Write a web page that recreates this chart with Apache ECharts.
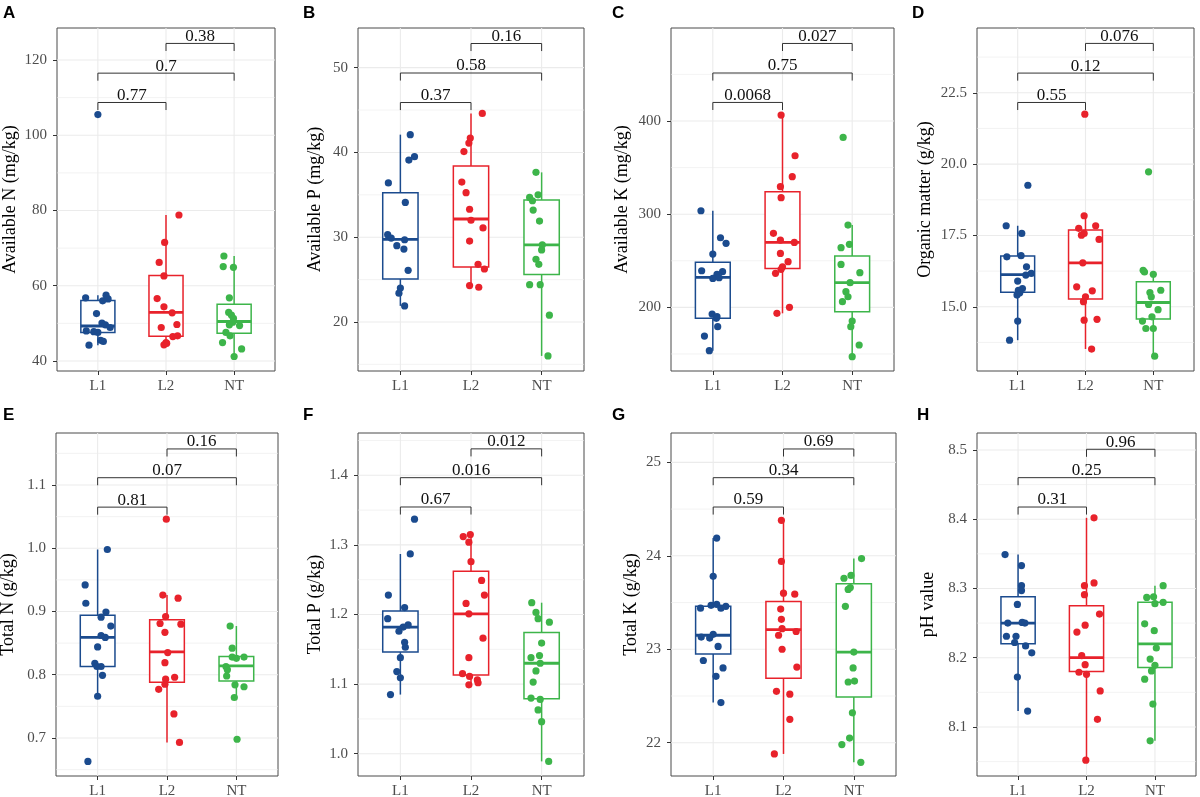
<!DOCTYPE html>
<html><head><meta charset="utf-8">
<script src="https://cdn.jsdelivr.net/npm/echarts@6/dist/echarts.min.js"></script>
<style>html,body{margin:0;padding:0;background:#fff}#c{width:1200px;height:797px}</style>
</head><body><div id="c"></div>
<script>
// ---------- data ----------
const groups = ['L1', 'L2', 'NT'];
const groupColors = ['#1B4B8E', '#E8222B', '#3DB54A'];

// A: Available N (mg/kg)
const aN_L1 = [105.5, 56.8, 57.5, 56.0, 56.5, 52.6, 50.1, 49.6, 48.9, 48.0, 47.6, 47.8, 45.5, 45.2, 44.2];
const aN_L1_jit = [0, -0.18, 0.12, 0.07, 0.15, -0.02, 0.06, 0.11, 0.18, -0.17, 0.0, -0.06, 0.04, 0.08, -0.13];
const aN_L2 = [78.8, 71.5, 66.2, 62.6, 56.6, 54.4, 52.8, 48.9, 49.7, 44.9, 44.3, 46.5, 46.7, 44.7];
const aN_L2_jit = [0.19, -0.02, -0.1, -0.03, -0.13, -0.03, 0.09, -0.07, 0.16, 0.0, -0.03, 0.1, 0.17, 0.01];
const aN_NT = [67.9, 65.1, 64.9, 56.8, 52.9, 52.2, 51.3, 50.3, 49.6, 49.4, 47.6, 46.7, 44.9, 43.2, 41.2];
const aN_NT_jit = [-0.15, -0.16, -0.01, -0.07, -0.08, -0.04, -0.01, -0.02, -0.07, 0.08, -0.12, -0.06, -0.17, 0.11, 0.0];
const aN_box = [[44.2, 47.6, 49.3, 56.1, 57.5], [44.3, 46.6, 52.9, 62.7, 78.8], [41.2, 47.4, 50.5, 55.1, 67.9]];
const aN_p = ['0.77', '0.7', '0.38'];
const aN_bracketY = [108.7, 116.5, 124.4];
const aN_range = [37.34, 128.5];
const aN_ticks = [40, 60, 80, 100, 120];
const aN_minor = [50, 70, 90, 110];

// B: Available P (mg/kg)
const aP_L1 = [42.1, 39.5, 39.1, 36.4, 34.1, 30.3, 29.9, 29.7, 29.0, 28.6, 26.1, 24.0, 23.4, 21.9];
const aP_L1_jit = [0.14, 0.2, 0.12, -0.17, 0.07, -0.18, -0.13, 0.06, -0.05, 0.05, 0.11, 0.0, -0.02, 0.06];
const aP_L2 = [44.6, 41.7, 41.1, 40.1, 36.5, 35.25, 33.3, 32.0, 31.1, 29.55, 26.8, 26.25, 24.3, 24.1];
const aP_L2_jit = [0.16, -0.01, -0.03, -0.1, -0.13, -0.07, -0.02, 0.0, 0.17, -0.02, 0.1, 0.19, -0.02, 0.11];
const aP_NT = [37.65, 34.7, 35.0, 34.3, 33.2, 31.9, 29.1, 28.5, 27.4, 26.8, 24.4, 24.4, 20.8, 16.0];
const aP_NT_jit = [-0.08, -0.17, -0.05, -0.13, -0.12, -0.03, 0.01, 0.0, -0.08, -0.04, -0.17, -0.02, 0.11, 0.09];
const aP_box = [[21.9, 25.07, 29.75, 35.25, 42.1], [24.1, 26.5, 32.15, 38.4, 44.6], [16.0, 25.6, 29.1, 34.4, 37.65]];
const aP_p = ['0.37', '0.58', '0.16'];
const aP_bracketY = [45.89, 49.37, 52.85];
const aP_range = [14.22, 54.68];
const aP_ticks = [20, 30, 40, 50];
const aP_minor = [15, 25, 35, 45];

// C: Available K (mg/kg)
const aK_L1 = [303.7, 274.7, 268.7, 257.2, 239.3, 238.3, 235.4, 231.1, 231.8, 192.8, 190.0, 188.2, 179.3, 169.2, 153.5];
const aK_L1_jit = [-0.17, 0.11, 0.19, 0.0, -0.16, 0.14, 0.06, 0.0, 0.09, -0.01, 0.06, 0.05, 0.07, -0.12, -0.05];
const aK_L2 = [406.4, 362.7, 340.2, 329.5, 317.7, 279.4, 272.2, 269.7, 257.9, 249.0, 243.6, 240.8, 236.5, 200.0, 193.6];
const aK_L2_jit = [-0.02, 0.18, 0.14, -0.03, -0.02, -0.13, -0.03, 0.17, -0.03, 0.08, 0.0, -0.02, -0.1, 0.1, -0.08];
const aK_NT = [382.4, 288.3, 267.6, 264.0, 246.1, 237.2, 226.5, 216.8, 211.4, 206.1, 185.3, 179.3, 159.6, 147.1];
const aK_NT_jit = [-0.13, -0.06, -0.04, -0.16, -0.16, 0.11, -0.03, -0.09, -0.06, -0.14, 0.0, -0.02, 0.1, 0.0];
const aK_box = [[153.5, 188.2, 232.2, 248.3, 303.7], [193.6, 241.8, 269.7, 324.1, 406.4], [147.1, 195.4, 226.5, 255.1, 288.3]];
const aK_p = ['0.0068', '0.75', '0.027'];
const aK_bracketY = [419.9, 451.5, 483.2];
const aK_range = [131.7, 499.8];
const aK_ticks = [200, 300, 400];
const aK_minor = [150, 250, 350, 450];

// D: Organic matter (g/kg)
const om_L1 = [19.26, 17.84, 17.57, 16.75, 16.79, 16.4, 16.11, 16.17, 15.9, 15.64, 15.58, 15.41, 15.49, 14.5, 13.83];
const om_L1_jit = [0.15, -0.17, 0.06, -0.16, 0.05, 0.13, 0.12, 0.2, 0.0, 0.07, 0.01, -0.01, 0.03, 0.0, -0.12];
const om_L2 = [21.75, 18.19, 17.84, 17.75, 17.51, 17.57, 17.36, 16.54, 15.7, 15.56, 15.35, 15.18, 14.53, 14.56, 13.52];
const om_L2_jit = [-0.01, -0.02, 0.15, -0.1, -0.06, -0.02, 0.2, -0.04, -0.13, 0.1, 0.0, -0.03, -0.02, 0.17, 0.09];
const om_NT = [19.73, 16.28, 16.22, 16.14, 15.58, 15.5, 15.35, 15.08, 14.9, 14.65, 14.5, 14.24, 14.24, 13.27];
const om_NT_jit = [-0.07, -0.15, -0.13, 0.0, 0.11, -0.05, -0.03, -0.07, 0.07, -0.02, -0.16, -0.11, 0.0, 0.02];
const om_box = [[13.83, 15.51, 16.13, 16.78, 17.84], [13.52, 15.27, 16.54, 17.69, 18.19], [13.27, 14.57, 15.15, 15.88, 16.14]];
const om_p = ['0.55', '0.12', '0.076'];
const om_bracketY = [22.16, 23.19, 24.23];
const om_range = [12.75, 24.77];
const om_ticks = [15, 17.5, 20, 22.5];
const om_minor = [13.75, 16.25, 18.75, 21.25, 23.75];

// E: Total N (g/kg)
const tN_L1 = [0.998, 0.942, 0.913, 0.899, 0.891, 0.877, 0.862, 0.859, 0.844, 0.818, 0.813, 0.813, 0.799, 0.766, 0.663];
const tN_L1_jit = [0.14, -0.18, -0.17, 0.12, 0.05, 0.19, 0.05, 0.11, 0.0, -0.04, 0.05, -0.01, 0.07, 0.0, -0.14];
const tN_L2 = [1.046, 0.926, 0.921, 0.892, 0.881, 0.880, 0.867, 0.835, 0.819, 0.796, 0.793, 0.785, 0.777, 0.738, 0.693];
const tN_L2_jit = [-0.01, -0.06, 0.16, -0.02, -0.1, 0.2, -0.03, 0.01, -0.03, 0.11, -0.02, -0.03, -0.12, 0.1, 0.18];
const tN_NT = [0.877, 0.842, 0.828, 0.826, 0.828, 0.813, 0.808, 0.798, 0.784, 0.781, 0.764, 0.698];
const tN_NT_jit = [-0.09, -0.06, -0.06, 0.0, 0.11, -0.15, -0.13, -0.14, -0.02, 0.11, -0.03, 0.01];
const tN_box = [[0.766, 0.813, 0.859, 0.894, 0.998], [0.693, 0.788, 0.836, 0.887, 0.926], [0.764, 0.790, 0.814, 0.829, 0.877]];
const tN_p = ['0.81', '0.07', '0.16'];
const tN_bracketY = [1.065, 1.1115, 1.157];
const tN_range = [0.6399, 1.1822];
const tN_ticks = [0.7, 0.8, 0.9, 1.0, 1.1];
const tN_minor = [0.65, 0.75, 0.85, 0.95, 1.05, 1.15];

// F: Total P (g/kg)
const tP_L1 = [1.337, 1.287, 1.228, 1.210, 1.194, 1.185, 1.182, 1.176, 1.160, 1.153, 1.138, 1.118, 1.109, 1.085];
const tP_L1_jit = [0.2, 0.14, -0.17, 0.06, -0.18, 0.11, 0.04, -0.02, 0.06, 0.07, 0.0, -0.05, 0.0, -0.14];
const tP_L2 = [1.312, 1.315, 1.304, 1.276, 1.249, 1.228, 1.216, 1.201, 1.166, 1.138, 1.115, 1.111, 1.106, 1.099, 1.102];
const tP_L2_jit = [-0.11, -0.01, -0.03, 0.0, 0.15, 0.19, -0.07, -0.03, 0.17, -0.03, -0.12, -0.02, 0.09, -0.03, 0.1];
const tP_NT = [1.217, 1.203, 1.194, 1.189, 1.159, 1.138, 1.141, 1.130, 1.119, 1.103, 1.080, 1.078, 1.063, 1.046, 0.989];
const tP_NT_jit = [-0.14, -0.08, -0.05, 0.11, 0.0, -0.15, -0.03, -0.02, -0.08, -0.12, -0.15, -0.02, -0.05, 0.0, 0.1];
const tP_box = [[1.085, 1.146, 1.182, 1.205, 1.287], [1.099, 1.113, 1.201, 1.262, 1.315], [0.989, 1.079, 1.130, 1.174, 1.217]];
const tP_p = ['0.67', '0.016', '0.012'];
const tP_bracketY = [1.3545, 1.3966, 1.438];
const tP_range = [0.968, 1.4608];
const tP_ticks = [1.0, 1.1, 1.2, 1.3, 1.4];
const tP_minor = [1.05, 1.15, 1.25, 1.35, 1.45];

// G: Total K (g/kg)
const tK_L1 = [24.19, 23.78, 23.44, 23.47, 23.48, 23.44, 23.46, 23.16, 23.13, 23.12, 23.03, 22.88, 22.8, 22.71, 22.43];
const tK_L1_jit = [0.05, 0.0, -0.18, -0.03, 0.05, 0.11, 0.18, 0.0, -0.17, -0.05, 0.07, -0.14, 0.14, 0.04, 0.11];
const tK_L2 = [24.38, 23.94, 23.6, 23.59, 23.43, 23.32, 23.22, 23.15, 23.19, 23.0, 22.81, 22.55, 22.52, 22.25, 21.88];
const tK_L2_jit = [-0.03, -0.03, 0.0, 0.16, -0.04, -0.03, -0.02, -0.07, 0.18, -0.02, 0.19, -0.1, 0.09, 0.09, -0.13];
const tK_NT = [23.97, 23.76, 23.79, 23.64, 23.66, 23.46, 22.97, 22.8, 22.65, 22.66, 22.32, 22.05, 21.98, 21.79];
const tK_NT_jit = [0.11, -0.14, -0.04, -0.08, -0.05, -0.12, 0.0, -0.01, -0.08, 0.01, -0.02, -0.06, -0.17, 0.1];
const tK_box = [[22.43, 22.95, 23.15, 23.46, 24.19], [21.88, 22.69, 23.21, 23.51, 24.38], [21.79, 22.49, 22.97, 23.70, 23.97]];
const tK_p = ['0.59', '0.34', '0.69'];
const tK_bracketY = [24.522, 24.836, 25.143];
const tK_range = [21.644, 25.314];
const tK_ticks = [22, 23, 24, 25];
const tK_minor = [22.5, 23.5, 24.5];

// H: pH value
const ph_L1 = [8.349, 8.333, 8.304, 8.297, 8.277, 8.25, 8.251, 8.25, 8.231, 8.231, 8.222, 8.217, 8.207, 8.172, 8.123];
const ph_L1_jit = [-0.19, 0.05, 0.05, 0.05, -0.01, -0.15, 0.06, 0.1, -0.17, -0.03, -0.05, 0.11, 0.2, -0.01, 0.14];
const ph_L2 = [8.402, 8.308, 8.304, 8.291, 8.263, 8.247, 8.237, 8.203, 8.19, 8.179, 8.176, 8.152, 8.111, 8.052];
const ph_L2_jit = [0.11, 0.11, -0.03, -0.03, 0.19, -0.02, -0.14, -0.07, -0.02, -0.11, 0.0, 0.2, 0.16, -0.01];
const ph_NT = [8.304, 8.287, 8.288, 8.278, 8.28, 8.249, 8.239, 8.214, 8.198, 8.189, 8.181, 8.169, 8.133, 8.08];
const ph_NT_jit = [0.12, -0.12, -0.02, 0.0, 0.12, -0.15, -0.01, 0.02, -0.07, 0.0, -0.05, -0.15, -0.03, -0.07];
const ph_box = [[8.123, 8.22, 8.25, 8.288, 8.349], [8.052, 8.18, 8.2, 8.275, 8.402], [8.08, 8.186, 8.22, 8.28, 8.304]];
const ph_p = ['0.31', '0.25', '0.96'];
const ph_bracketY = [8.4176, 8.46, 8.501];
const ph_range = [8.0292, 8.5245];
const ph_ticks = [8.1, 8.2, 8.3, 8.4, 8.5];
const ph_minor = [8.05, 8.15, 8.25, 8.35, 8.45];

// comparison pairs (group positions)
const pairs = [[1, 2], [1, 3], [2, 3]];

// ---------- layout / style ----------
const panels = [
  {letter: 'A', title: 'Available N (mg/kg)', pts: [aN_L1, aN_L2, aN_NT], jit: [aN_L1_jit, aN_L2_jit, aN_NT_jit], box: aN_box, p: aN_p, by: aN_bracketY, range: aN_range, ticks: aN_ticks, minor: aN_minor, dec: 0,
   grid: [57, 28, 218, 343], gap: 38, lx: 3, ly: 5},
  {letter: 'B', title: 'Available P (mg/kg)', pts: [aP_L1, aP_L2, aP_NT], jit: [aP_L1_jit, aP_L2_jit, aP_NT_jit], box: aP_box, p: aP_p, by: aP_bracketY, range: aP_range, ticks: aP_ticks, minor: aP_minor, dec: 0,
   grid: [358, 28, 226, 343], gap: 34, lx: 303, ly: 5},
  {letter: 'C', title: 'Available K (mg/kg)', pts: [aK_L1, aK_L2, aK_NT], jit: [aK_L1_jit, aK_L2_jit, aK_NT_jit], box: aK_box, p: aK_p, by: aK_bracketY, range: aK_range, ticks: aK_ticks, minor: aK_minor, dec: 0,
   grid: [671, 28, 223, 343], gap: 40, lx: 612, ly: 5},
  {letter: 'D', title: 'Organic matter (g/kg)', pts: [om_L1, om_L2, om_NT], jit: [om_L1_jit, om_L2_jit, om_NT_jit], box: om_box, p: om_p, by: om_bracketY, range: om_range, ticks: om_ticks, minor: om_minor, dec: 1,
   grid: [977, 28, 217, 343], gap: 43, lx: 912, ly: 5},
  {letter: 'E', title: 'Total N (g/kg)', pts: [tN_L1, tN_L2, tN_NT], jit: [tN_L1_jit, tN_L2_jit, tN_NT_jit], box: tN_box, p: tN_p, by: tN_bracketY, range: tN_range, ticks: tN_ticks, minor: tN_minor, dec: 1,
   grid: [56, 433, 222, 343], gap: 38.5, lx: 3, ly: 407},
  {letter: 'F', title: 'Total P (g/kg)', pts: [tP_L1, tP_L2, tP_NT], jit: [tP_L1_jit, tP_L2_jit, tP_NT_jit], box: tP_box, p: tP_p, by: tP_bracketY, range: tP_range, ticks: tP_ticks, minor: tP_minor, dec: 1,
   grid: [358, 433, 226, 343], gap: 34, lx: 303, ly: 407},
  {letter: 'G', title: 'Total K (g/kg)', pts: [tK_L1, tK_L2, tK_NT], jit: [tK_L1_jit, tK_L2_jit, tK_NT_jit], box: tK_box, p: tK_p, by: tK_bracketY, range: tK_range, ticks: tK_ticks, minor: tK_minor, dec: 0,
   grid: [671, 433, 225, 343], gap: 30.5, lx: 612, ly: 407},
  {letter: 'H', title: 'pH value', pts: [ph_L1, ph_L2, ph_NT], jit: [ph_L1_jit, ph_L2_jit, ph_NT_jit], box: ph_box, p: ph_p, by: ph_bracketY, range: ph_range, ticks: ph_ticks, minor: ph_minor, dec: 1,
   grid: [977, 433, 219, 343], gap: 39.5, lx: 917, ly: 407}
];

const SERIF = '"Liberation Serif", "DejaVu Serif", serif';
const X_MIN = 0.4, X_MAX = 3.6, BOX_HALF = 0.25;
const GRID_COLOR = '#EBEBEB';
const INK = '#333333';

const option = {
  animation: false,
  backgroundColor: '#ffffff',
  grid: [], xAxis: [], yAxis: [], series: [],
  graphic: []
};

panels.forEach((pn, i) => {
  const [gl, gt, gw, gh] = pn.grid;
  const [ymin, ymax] = pn.range;
  const legLen = (ymax - ymin) * 0.022;
  option.grid.push({left: gl, top: gt, width: gw, height: gh, show: true, borderColor: '#4a4a4a', borderWidth: 1,
    backgroundColor: 'transparent', containLabel: false, outerBoundsMode: 'none'});
  option.xAxis.push({
    gridIndex: i, type: 'value', min: X_MIN, max: X_MAX,
    axisLine: {show: false}, splitLine: {show: false},
    axisTick: {show: true, length: 4, customValues: [1, 2, 3], lineStyle: {color: INK, width: 1}},
    axisLabel: {customValues: [1, 2, 3], formatter: v => groups[Math.round(v) - 1], color: '#4D4D4D',
      fontFamily: SERIF, fontSize: 15, margin: 8}
  });
  option.yAxis.push({
    gridIndex: i, type: 'value', min: ymin, max: ymax,
    axisLine: {show: false}, splitLine: {show: false},
    axisTick: {show: true, length: 4, customValues: pn.ticks, lineStyle: {color: INK, width: 1}},
    axisLabel: {customValues: pn.ticks, formatter: v => Number(v).toFixed(pn.dec), color: '#4D4D4D',
      fontFamily: SERIF, fontSize: 15, margin: 10},
    name: pn.title, nameLocation: 'middle', nameGap: pn.gap,
    nameTextStyle: {fontFamily: SERIF, fontSize: 18, color: '#000'}
  });

  // background grid lines
  const gridData = [];
  pn.ticks.forEach(v => gridData.push([0, v]));
  pn.minor.forEach(v => gridData.push([1, v]));
  [1, 2, 3].forEach(v => gridData.push([2, v]));
  option.series.push({
    type: 'custom', xAxisIndex: i, yAxisIndex: i, z: 1, silent: true,
    data: gridData,
    renderItem: (params, api) => {
      const kind = api.value(0), v = api.value(1);
      let a, b;
      if (kind === 2) { a = api.coord([v, ymin]); b = api.coord([v, ymax]); }
      else { a = api.coord([X_MIN, v]); b = api.coord([X_MAX, v]); }
      return {type: 'line', shape: {x1: a[0], y1: a[1], x2: b[0], y2: b[1]},
        style: {stroke: GRID_COLOR, lineWidth: kind === 1 ? 0.6 : 1.1}};
    }
  });

  // boxes
  option.series.push({
    type: 'custom', xAxisIndex: i, yAxisIndex: i, z: 2, silent: true,
    data: pn.box.map((b, g) => [g + 1].concat(b)),
    renderItem: (params, api) => {
      const x = api.value(0), lo = api.value(1), q1 = api.value(2), med = api.value(3), q3 = api.value(4), hi = api.value(5);
      const color = groupColors[params.dataIndex];
      const cHi = api.coord([x, hi]), cQ3 = api.coord([x, q3]), cQ1 = api.coord([x, q1]), cLo = api.coord([x, lo]);
      const lt = api.coord([x - BOX_HALF, q3]), rb = api.coord([x + BOX_HALF, q1]);
      const ml = api.coord([x - BOX_HALF, med]), mr = api.coord([x + BOX_HALF, med]);
      return {type: 'group', children: [
        {type: 'line', shape: {x1: cQ3[0], y1: cQ3[1], x2: cHi[0], y2: cHi[1]}, style: {stroke: color, lineWidth: 1.5}},
        {type: 'line', shape: {x1: cQ1[0], y1: cQ1[1], x2: cLo[0], y2: cLo[1]}, style: {stroke: color, lineWidth: 1.5}},
        {type: 'rect', shape: {x: lt[0], y: lt[1], width: rb[0] - lt[0], height: rb[1] - lt[1]}, style: {fill: '#ffffff', stroke: color, lineWidth: 1.5}},
        {type: 'line', shape: {x1: ml[0], y1: ml[1], x2: mr[0], y2: mr[1]}, style: {stroke: color, lineWidth: 2.8}}
      ]};
    }
  });

  // jittered points
  pn.pts.forEach((arr, g) => {
    option.series.push({
      type: 'scatter', xAxisIndex: i, yAxisIndex: i, z: 3, silent: true,
      symbol: 'circle', symbolSize: 7.2,
      itemStyle: {color: groupColors[g], opacity: 1},
      data: arr.map((v, k) => [g + 1 + pn.jit[g][k], v])
    });
  });

  // significance brackets
  option.series.push({
    type: 'custom', xAxisIndex: i, yAxisIndex: i, z: 4, silent: true,
    data: pairs.map((pr, k) => [pr[0], pr[1], pn.by[k], k]),
    renderItem: (params, api) => {
      const x1 = api.value(0), x2 = api.value(1), y = api.value(2), k = api.value(3);
      const a = api.coord([x1, y - legLen]), b = api.coord([x1, y]), c = api.coord([x2, y]), d = api.coord([x2, y - legLen]);
      return {type: 'group', children: [
        {type: 'polyline', shape: {points: [a, b, c, d]}, style: {stroke: INK, lineWidth: 1, fill: null}},
        {type: 'text', x: (b[0] + c[0]) / 2, y: b[1] + 1.5,
          style: {text: pn.p[k], align: 'center', verticalAlign: 'bottom', fontFamily: SERIF, fontSize: 17, fill: '#111'}}
      ]};
    }
  });

  option.graphic.push({type: 'text', left: pn.lx, top: pn.ly,
    style: {text: pn.letter, fontFamily: '"Liberation Sans", Arial, sans-serif', fontWeight: 'bold', fontSize: 17, fill: '#000'}});
});

const chart = echarts.init(document.getElementById('c'), null, {renderer: 'canvas'});
chart.setOption(option);
</script>
</body></html>
